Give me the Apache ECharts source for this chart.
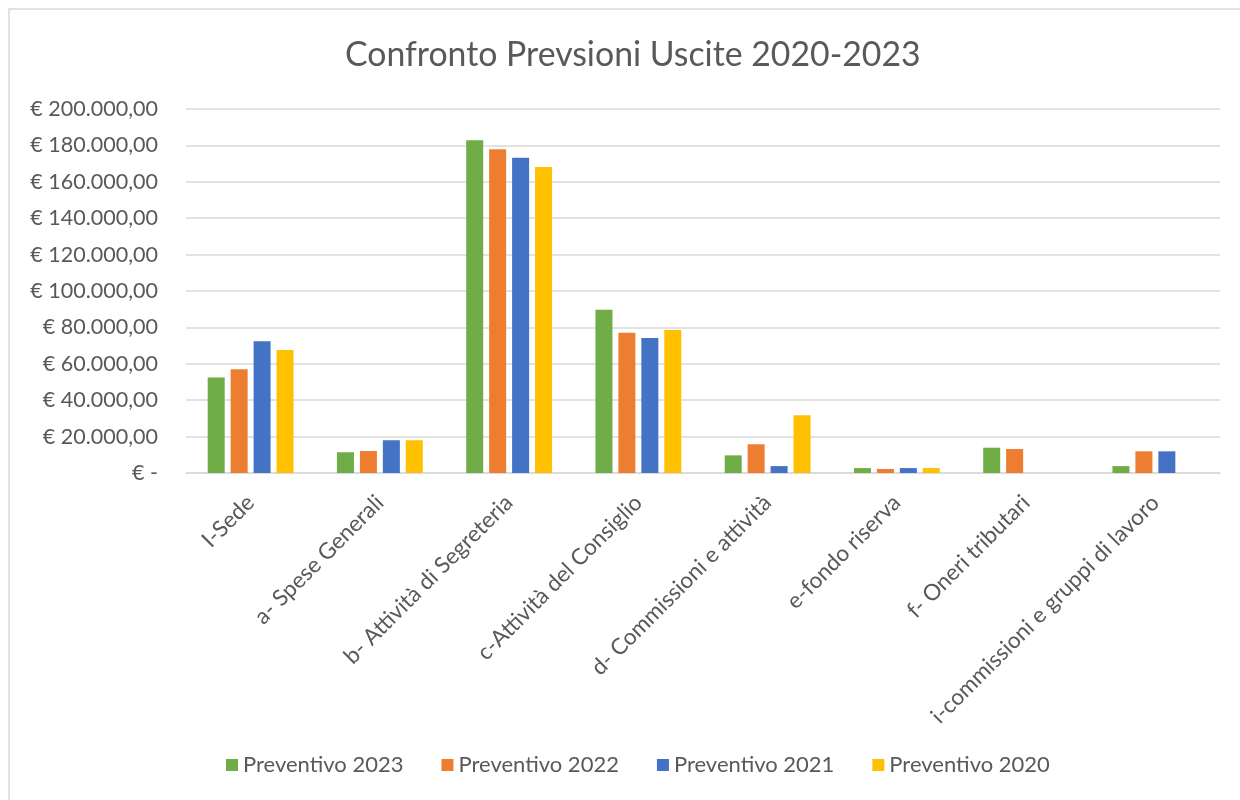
<!DOCTYPE html>
<html>
<head>
<meta charset="utf-8">
<script src="https://cdn.jsdelivr.net/npm/echarts@6/dist/echarts.min.js"></script>
<style>
html,body{margin:0;padding:0;background:#fff;}
#chart{width:1240px;height:800px;}
</style>
</head>
<body>
<div id="chart"></div>
<script>
const categories = ["I-Sede","a- Spese Generali","b- Attività di Segreteria","c-Attività del Consiglio","d- Commissioni e attività","e-fondo riserva","f- Oneri tributari","i-commissioni e gruppi di lavoro"];
const seriesNames = ["Preventivo 2023","Preventivo 2022","Preventivo 2021","Preventivo 2020"];
const prev2023 = [52500, 11400, 182800, 89700, 9700, 2700, 13900, 3800];
const prev2022 = [57000, 12100, 177900, 77100, 15800, 2200, 13200, 11900];
const prev2021 = [72400, 18000, 173200, 74200, 3800, 2700, null, 11900];
const prev2020 = [67600, 18000, 168100, 78600, 31700, 2700, null, null];
const colors = ["#70ad47","#ed7d31","#4472c4","#ffc000"];
const seriesData = [prev2023, prev2022, prev2021, prev2020];

const font = "Lato, 'Open Sans', sans-serif";
function fmt(v){
  if(v===0) return "€ -";
  const s = Math.round(v).toString().replace(/\B(?=(\d{3})+(?!\d))/g, ".");
  return "€ " + s + ",00";
}
const chart = echarts.init(document.getElementById('chart'));
chart.setOption({
  animation:false,
  backgroundColor:'#fff',
  graphic:[{type:'rect',shape:{x:9,y:9,width:1240,height:800},style:{fill:'none',stroke:'#d9d9d9',lineWidth:1.5},silent:true}],
  title:{text:"Confronto Prevsioni Uscite 2020-2023",left:340,top:33,
    textStyle:{fontFamily:font,fontSize:33.8,fontWeight:'normal',color:'#595959'}},
  legend:{bottom:19,left:221,itemWidth:12,itemHeight:12,itemGap:38,icon:'rect',
    textStyle:{fontFamily:font,fontSize:22,color:'#595959'}},
  grid:{left:186,right:20,top:109,bottom:327},
  xAxis:{type:'category',data:categories,
    axisLine:{lineStyle:{color:'#d9d9d9',width:1.5}},axisTick:{show:false},
    axisLabel:{rotate:45,interval:0,fontFamily:font,fontSize:22.5,color:'#595959',margin:26}},
  yAxis:{type:'value',min:0,max:200000,interval:20000,
    axisLine:{show:false},axisTick:{show:false},
    splitLine:{lineStyle:{color:'#d9d9d9',width:1.5}},
    axisLabel:{formatter:fmt,fontFamily:font,fontSize:21.5,color:'#595959',margin:28}},
  series: seriesNames.map((n,i)=>({
    name:n,type:'bar',data:seriesData[i],barWidth:17,barGap:'35%',
    itemStyle:{color:colors[i]}
  }))
});
</script>
</body>
</html>
